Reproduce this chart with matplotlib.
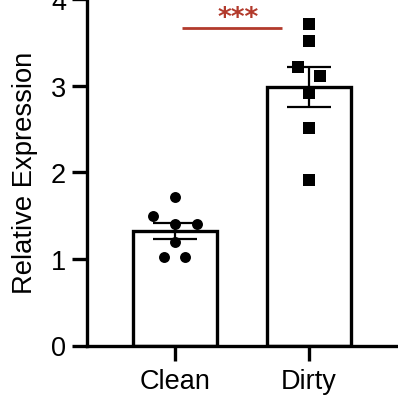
import numpy as np
import matplotlib.pyplot as plt

plt.rcParams['font.family'] = ['Liberation Sans', 'DejaVu Sans']

groups = ['Clean', 'Dirty']
clean_vals = [1.71, 1.50, 1.40, 1.40, 1.20, 1.02, 1.02]
clean_jit = [0.0, -0.167, 0.0, 0.162, 0.0, -0.082, 0.075]
dirty_vals = [3.71, 3.52, 3.22, 3.11, 2.91, 2.51, 1.91]
dirty_jit = [0.0, 0.0, -0.085, 0.085, 0.0, 0.0, 0.0]
sig_label = '***'

fig = plt.figure(figsize=(3.98, 4.02), dpi=100)
ax = fig.add_axes([87 / 398, 55.5 / 402, 311 / 398, 346.5 / 402])

data = [clean_vals, dirty_vals]
means = [np.mean(d) for d in data]
sems = [np.std(d, ddof=1) / np.sqrt(len(d)) for d in data]
xpos = np.arange(len(groups))

ax.bar(xpos, means, width=0.63, color='white', edgecolor='black', linewidth=2.4, zorder=1)

ax.scatter(xpos[0] + np.array(clean_jit), clean_vals, s=62, marker='o',
           color='black', zorder=3, linewidths=0)
ax.scatter(xpos[1] + np.array(dirty_jit), dirty_vals, s=66, marker='s',
           color='black', zorder=3, linewidths=0)

ax.errorbar(xpos, means, yerr=sems, fmt='none', ecolor='black', elinewidth=1.6,
            capsize=16, capthick=1.6, zorder=4)

# significance bar
red = '#b23a2c'
ax.plot([0.052, 0.80], [3.67, 3.67], color=red, lw=2, solid_capstyle='butt')
ax.text(0.47, 3.70, sig_label, color=red, ha='center', va='baseline',
        fontsize=19, fontweight='bold', family='DejaVu Sans')

ax.set_xlim(-0.657, 1.664)
ax.set_ylim(0, 4)
ax.set_yticks([0, 1, 2, 3, 4])
ax.set_xticks(xpos)
ax.set_xticklabels(groups)
ax.set_ylabel('Relative Expression', fontsize=19.7, labelpad=9)

for s in ['top', 'right']:
    ax.spines[s].set_visible(False)
for s in ['left', 'bottom']:
    ax.spines[s].set_linewidth(2.4)
ax.tick_params(axis='both', width=2.4, length=11, labelsize=19.5, pad=4)
ax.tick_params(axis='x', pad=5)

fig.savefig('out.png', dpi=100)
